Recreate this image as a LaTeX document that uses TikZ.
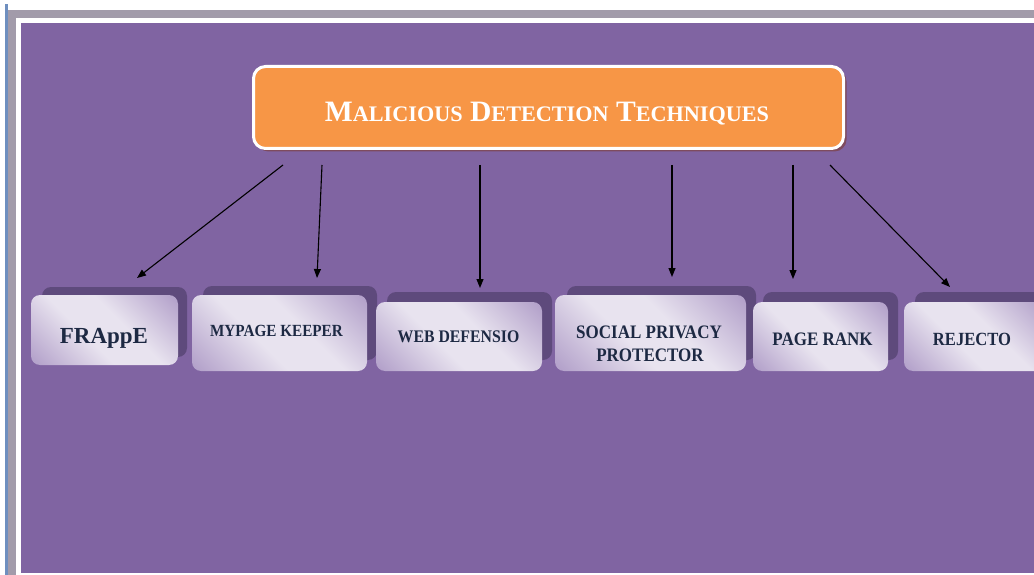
\documentclass[tikz,border=0pt]{standalone}
\usepackage{fontspec}
\setmainfont{Liberation Serif}
\usetikzlibrary{arrows.meta}
\definecolor{bgpurple}{HTML}{8064A2}
\definecolor{shpurple}{HTML}{5E4A7C}
\definecolor{orng}{HTML}{F79646}
\definecolor{orngshadow}{HTML}{7E4B5E}
\definecolor{lavL}{HTML}{E8E3EF}
\definecolor{lavD}{HTML}{B3A1CA}
\definecolor{navy}{HTML}{1D2943}
\definecolor{frameGray}{HTML}{A29BAA}
\definecolor{frameBlue}{HTML}{6F8FBF}
\pgfdeclarehorizontalshading{boxshade}{100bp}{color(0bp)=(lavD); color(16bp)=(lavD); color(42bp)=(lavL); color(58bp)=(lavL); color(84bp)=(lavD); color(100bp)=(lavD)}
\newcommand{\tallcaps}[1]{\scalebox{1}[1.12]{#1}}
\tikzset{
  techbox/.style={rectangle, rounded corners=9pt, shading=boxshade, shading angle=45, inner sep=0pt},
  techlabel/.style={anchor=base, inner sep=0pt, text=navy, font=\bfseries\fontsize{16}{22}\selectfont},
  techshadow/.style={rounded corners=9pt, fill=shpurple},
  titlebox/.style={rectangle, rounded corners=12pt, fill=orng, draw=white, line width=3pt, inner sep=0pt},
  titlelabel/.style={anchor=base, inner sep=0pt, text=white},
  arr/.style={-{Triangle[length=9pt,width=7pt]}, line width=1.1pt, black}
}
\begin{document}
\begin{tikzpicture}[x=1pt,y=-1pt]
\useasboundingbox (0,0) rectangle (1034,575);
\clip (0,0) rectangle (1034,575);
% frame
\fill[white] (0,0) rectangle (1034,575);
\fill[frameBlue] (5,4) rectangle (8,575);
\fill[frameGray] (8,10) rectangle (1034,18);
\fill[frameGray] (8,10) rectangle (16,575);
\fill[bgpurple] (21,23) rectangle (1034,573);
% title
\fill[orngshadow, rounded corners=12pt] (256.5,69.5) rectangle (846.5,151.5);
\node[titlebox, minimum width=590pt, minimum height=82pt] (title) at (548.5,107.5) {};
\node[titlelabel] (titletext) at (547,122)
  {\bfseries\fontsize{29.6}{30}\selectfont M{\fontsize{22.2}{24}\selectfont ALICIOUS} D{\fontsize{22.2}{24}\selectfont ETECTION} T{\fontsize{22.2}{24}\selectfont ECHNIQUES}};
% shadows
\fill[techshadow] (42,287) rectangle (187,357);
\fill[techshadow] (203,286) rectangle (377,360);
\fill[techshadow] (387,292) rectangle (552,360);
\fill[techshadow] (567,286) rectangle (756,360);
\fill[techshadow] (763,292) rectangle (898,360);
\fill[techshadow] (915,292) rectangle (1055,360);
% boxes
\node[techbox, minimum width=147pt, minimum height=70pt] (frappe) at (104.5,330) {};
\node[techbox, minimum width=175pt, minimum height=76pt] (mypage) at (279.5,333) {};
\node[techbox, minimum width=166pt, minimum height=69pt] (webdef) at (459,336.5) {};
\node[techbox, minimum width=191pt, minimum height=76pt] (social) at (650.5,333) {};
\node[techbox, minimum width=135pt, minimum height=69pt] (pagerank) at (820.5,336.5) {};
\node[techbox, minimum width=141pt, minimum height=69pt] (rejecto) at (974.5,336.5) {};
% labels
\node[techlabel, font=\bfseries\fontsize{23}{24}\selectfont] (frappeT) at (104,343) {FRAppE};
\node[techlabel, font=\bfseries\fontsize{15.2}{18}\selectfont] (mypageT) at (276.5,336) {\tallcaps{MYPAGE KEEPER}};
\node[techlabel, font=\bfseries\fontsize{15.8}{18}\selectfont] (webdefT) at (458.5,342) {\tallcaps{WEB DEFENSIO}};
\node[techlabel, font=\bfseries\fontsize{17}{18}\selectfont] (socialT1) at (649,338) {\tallcaps{SOCIAL PRIVACY}};
\node[techlabel, font=\bfseries\fontsize{17}{18}\selectfont] (socialT2) at (650,361) {\tallcaps{PROTECTOR}};
\node[techlabel, font=\bfseries\fontsize{17}{18}\selectfont] (pagerankT) at (822.5,345) {\tallcaps{PAGE RANK}};
\node[techlabel, font=\bfseries\fontsize{16.6}{18}\selectfont] (rejectoT) at (972,345) {\tallcaps{REJECTO}};
% arrows
\coordinate (s1) at (283,165); \coordinate (e1) at (137,278);
\coordinate (s2) at (322,165); \coordinate (e2) at (317,278);
\coordinate (s3) at (480,165); \coordinate (e3) at (480,288);
\coordinate (s4) at (672,165); \coordinate (e4) at (672,277);
\coordinate (s5) at (793,165); \coordinate (e5) at (793,279);
\coordinate (s6) at (830,165); \coordinate (e6) at (950,287);
\draw[arr] (s1) -- (e1);
\draw[arr] (s2) -- (e2);
\draw[arr] (s3) -- (e3);
\draw[arr] (s4) -- (e4);
\draw[arr] (s5) -- (e5);
\draw[arr] (s6) -- (e6);
\end{tikzpicture}
\end{document}
